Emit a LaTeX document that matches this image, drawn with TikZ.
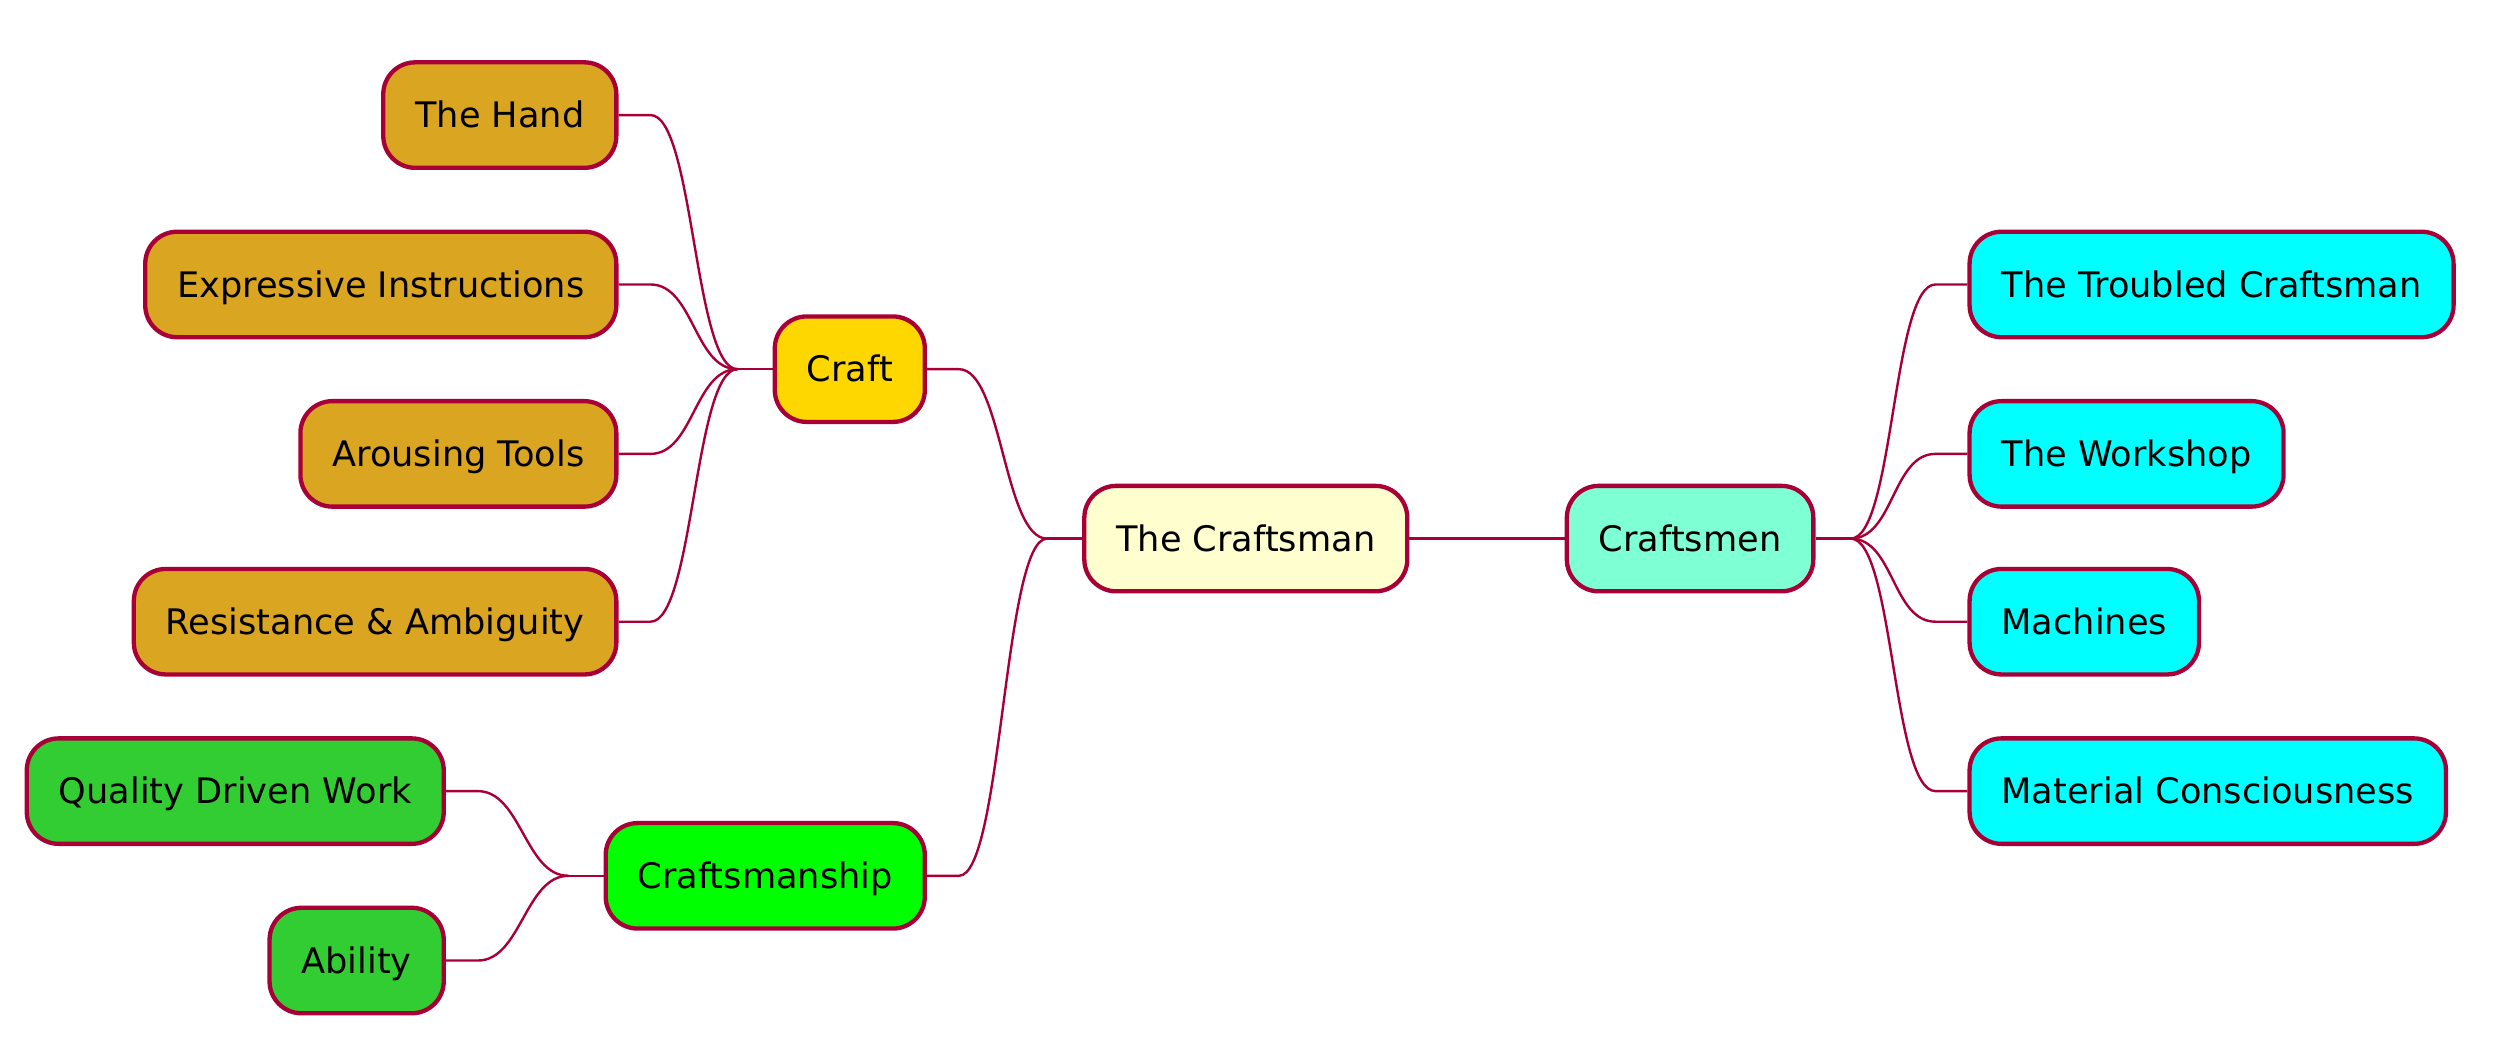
\documentclass[tikz,border=0pt]{standalone}
\usepackage{fontspec}
\setmainfont{DejaVu Sans}
\definecolor{edgered}{HTML}{A80036}
\definecolor{rootfill}{HTML}{FEFECE}
\definecolor{goldfill}{HTML}{FFD700}
\definecolor{goldrodfill}{HTML}{DAA520}
\definecolor{aquafill}{HTML}{7FFFD4}
\definecolor{cyanfill}{HTML}{00FFFF}
\definecolor{limefill}{HTML}{00FF00}
\definecolor{greenfill}{HTML}{32CD32}

\begin{document}
\begin{tikzpicture}[x=1pt,y=-1pt,
        topic/.style={draw=edgered,line width=2.7pt,rounded corners=20pt,minimum height=66pt,inner xsep=20pt,
            text height=19pt,text depth=3pt,font=\fontsize{22}{26}\selectfont},
        link/.style={draw=edgered,line width=1.5pt},
        toleft/.style={link,out=180,in=0,distance=27pt},
        toright/.style={link,out=0,in=180,distance=27pt}]
        \useasboundingbox (0,0) rectangle (1568,654.5);
        % centre and first level
        \node[topic,fill=rootfill](craftsman)at(779.5,337){The Craftsman};
        \node[topic,fill=goldfill,anchor=east](craft)at(580,231){Craft};
        \node[topic,fill=limefill,anchor=east](craftsmanship)at(580,548){Craftsmanship};
        \node[topic,fill=aquafill,anchor=west](craftsmen)at(979,337){Craftsmen};
        % leaves of Craft
        \node[topic,fill=goldrodfill,anchor=east](hand)at(387,72){The Hand};
        \node[topic,fill=goldrodfill,anchor=east](instructions)at(387,178){Expressive Instructions};
        \node[topic,fill=goldrodfill,anchor=east](tools)at(387,284){Arousing Tools};
        \node[topic,fill=goldrodfill,anchor=east](resistance)at(387,389){Resistance \& Ambiguity};
        % leaves of Craftsmanship
        \node[topic,fill=greenfill,anchor=east](quality)at(279,495){Quality Driven Work};
        \node[topic,fill=greenfill,anchor=east](ability)at(279,601){Ability};
        % leaves of Craftsmen
        \node[topic,fill=cyanfill,anchor=west](troubled)at(1231,178){The Troubled Craftsman};
        \node[topic,fill=cyanfill,anchor=west](workshop)at(1231,284){The Workshop};
        \node[topic,fill=cyanfill,anchor=west](machines)at(1231,389){Machines};
        \node[topic,fill=cyanfill,anchor=west](material)at(1231,495){Material Consciousness};
        % branches
        \draw[link](craftsman.east)--(craftsmen.west);
        \draw[link](craftsman.west)--++(-22pt,0)coordinate(rootJ);
        \foreach \c in {craft,craftsmanship}
            \draw[toleft](rootJ)to([xshift=20pt]\c.east)--(\c.east);
        \draw[link](craft.west)--++(-22pt,0)coordinate(craftJ);
        \foreach \c in {hand,instructions,tools,resistance}
            \draw[toleft](craftJ)to([xshift=20pt]\c.east)--(\c.east);
        \draw[link](craftsmanship.west)--++(-22pt,0)coordinate(shipJ);
        \foreach \c in {quality,ability}
            \draw[toleft](shipJ)to([xshift=20pt]\c.east)--(\c.east);
        \draw[link](craftsmen.east)--++(22pt,0)coordinate(menJ);
        \foreach \c in {troubled,workshop,machines,material}
            \draw[toright](menJ)to([xshift=-20pt]\c.west)--(\c.west);
    \end{tikzpicture}
\end{document}
